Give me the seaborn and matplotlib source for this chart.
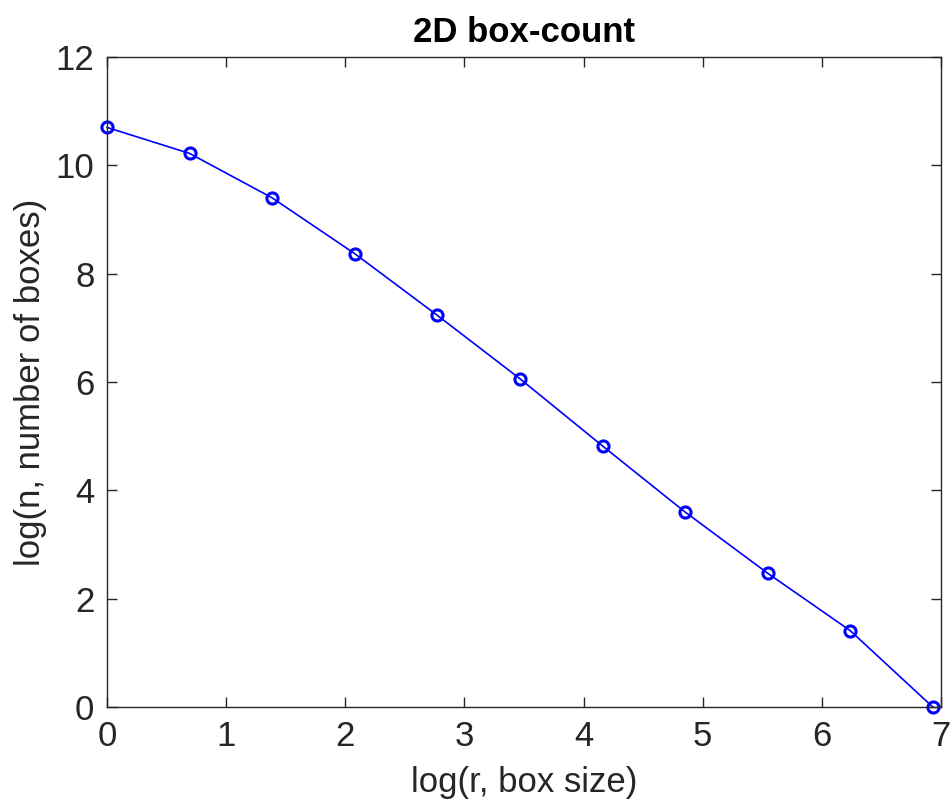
import matplotlib
matplotlib.use("Agg")
import matplotlib.pyplot as plt
import seaborn as sns
import pandas as pd

# log of box size and box count
log_r = [0.0, 0.693, 1.386, 2.079, 2.773, 3.466, 4.159, 4.852, 5.545, 6.238, 6.931]
log_n = [10.70, 10.22, 9.40, 8.37, 7.23, 6.06, 4.82, 3.60, 2.47, 1.41, 0.0]
x_ticks = [0, 1, 2, 3, 4, 5, 6, 7]
y_ticks = [0, 2, 4, 6, 8, 10, 12]

sns.set_style("ticks")
plt.rcParams['font.family'] = ['Liberation Sans', 'DejaVu Sans']

df = pd.DataFrame({"log_r": log_r, "log_n": log_n})

fig = plt.figure(figsize=(9.51, 8.06), dpi=100)
ax = fig.add_axes([0.1125, 0.1228, 0.877, 0.8065])

sns.lineplot(data=df, x="log_r", y="log_n", ax=ax, sort=False, color="blue",
             linewidth=1.2, marker="o", markersize=8, markerfacecolor="none",
             markeredgecolor="blue", markeredgewidth=2.2, clip_on=False)

ax.set_xlim(0, 7)
ax.set_ylim(0, 12)
ax.set_xticks(x_ticks)
ax.set_yticks(y_ticks)

dark = "#262626"
for s in ax.spines.values():
    s.set_visible(True)
    s.set_color(dark)
    s.set_linewidth(1.0)
ax.tick_params(direction="in", length=7, width=1.0, colors=dark, labelsize=25,
               top=True, right=True)
ax.tick_params(axis="x", pad=9)
ax.tick_params(axis="y", pad=9)

ax.set_xlabel("log(r, box size)", fontsize=25, color=dark, labelpad=10)
ax.set_ylabel("log(n, number of boxes)", fontsize=25, color=dark, labelpad=6)
ax.set_title("2D box-count", fontsize=25, fontweight="bold", color="black", pad=11)

fig.savefig("out.png", dpi=100)
